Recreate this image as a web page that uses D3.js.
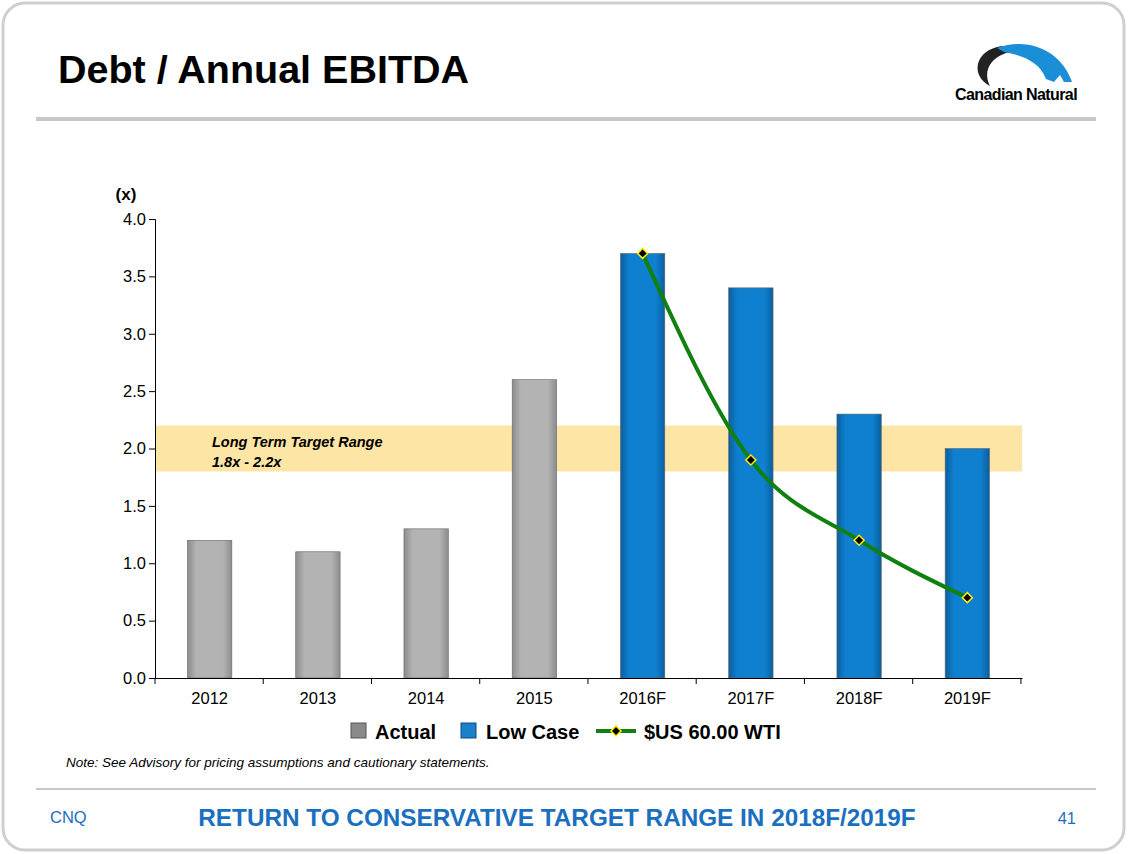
<!DOCTYPE html>
<html><head><meta charset="utf-8">
<script src="https://cdn.jsdelivr.net/npm/d3@7"></script>
<style>body{margin:0;background:#fff;font-family:"Liberation Sans",Arial,sans-serif}</style>
</head><body>
<svg id="c" width="1128" height="854"></svg>
<script>
const years = ["2012","2013","2014","2015","2016F","2017F","2018F","2019F"];
const actual = [1.2, 1.1, 1.3, 2.6, null, null, null, null];
const lowCase = [null, null, null, null, 3.7, 3.4, 2.3, 2.0];
const wti = [null, null, null, null, 3.7, 1.9, 1.2, 0.7];
const yTicks = [0, 0.5, 1, 1.5, 2, 2.5, 3, 3.5, 4];
const targetRange = [1.8, 2.2];

const svg = d3.select("#c");
const pLeft = 155, pRight = 1022, pTop = 219, pBottom = 678;

// slide frame
svg.append("rect").attr("x", 3).attr("y", 3).attr("width", 1121).attr("height", 847)
  .attr("rx", 22).attr("fill", "#fff").attr("stroke", "#cfcfcf").attr("stroke-width", 3);
svg.append("text").attr("x", 58).attr("y", 83).attr("font-size", 39.5).attr("font-weight", "bold")
  .text("Debt / Annual EBITDA");
svg.append("rect").attr("x", 36).attr("y", 117).attr("width", 1060).attr("height", 4).attr("fill", "#c8c8c8");

// logo
const logo = svg.append("g");
logo.append("path").attr("d", "M1002,46 C974,50 970,76 990,86 C982,70 992,56 1010,52 Z").attr("fill", "#222");
logo.append("path").attr("d", "M997,48 C1030,36 1062,52 1072,82 L1064,82 L1060,75 L1054,82 L1046,79 C1040,62 1022,55 1004,52 Z").attr("fill", "#1a8fd8");
logo.append("text").attr("x", 1016).attr("y", 100).attr("text-anchor", "middle").attr("font-size", 16)
  .attr("font-weight", "bold").attr("letter-spacing", -0.6).text("Canadian Natural");

const x = d3.scaleBand().domain(years).range([pLeft, pRight]).paddingInner(0.59).paddingOuter(0.3);
const y = d3.scaleLinear().domain([0, 4]).range([pBottom, pTop]);

// target band
svg.append("rect").attr("x", pLeft).attr("width", pRight - pLeft)
  .attr("y", y(targetRange[1])).attr("height", y(targetRange[0]) - y(targetRange[1]))
  .attr("fill", "#fde5a6");
svg.append("text").attr("x", 212).attr("y", 447).attr("font-size", 14.5).attr("font-weight", "bold")
  .attr("font-style", "italic").text("Long Term Target Range");
svg.append("text").attr("x", 212).attr("y", 467).attr("font-size", 14.5).attr("font-weight", "bold")
  .attr("font-style", "italic").text("1.8x - 2.2x");

const defs = svg.append("defs");
function grad(id, c0, c1) {
  const g = defs.append("linearGradient").attr("id", id);
  g.append("stop").attr("offset", "0").attr("stop-color", c1);
  g.append("stop").attr("offset", "0.2").attr("stop-color", c0);
  g.append("stop").attr("offset", "0.8").attr("stop-color", c0);
  g.append("stop").attr("offset", "1").attr("stop-color", c1);
}
grad("gGrey", "#b3b3b3", "#8c8c8c");
grad("gBlue", "#0f80d0", "#0a5f9e");

function bars(vals, fill) {
  svg.append("g").selectAll("rect").data(years.map((d, i) => [d, vals[i]]).filter(d => d[1] != null))
    .join("rect").attr("x", d => x(d[0])).attr("width", x.bandwidth())
    .attr("y", d => y(d[1])).attr("height", d => y(0) - y(d[1])).attr("fill", fill)
    .attr("stroke", "#666").attr("stroke-width", 0.6);
}
bars(actual, "url(#gGrey)");
bars(lowCase, "url(#gBlue)");

// axes
const ya = svg.append("g").attr("transform", `translate(${pLeft},0)`)
  .call(d3.axisLeft(y).tickValues(yTicks).tickFormat(d3.format(".1f")).tickSize(6));
const xa = svg.append("g").attr("transform", `translate(0,${pBottom})`)
  .call(d3.axisBottom(x).tickSize(0).tickPadding(14));
[ya, xa].forEach(a => { a.selectAll("text").attr("font-size", 16.5).attr("fill", "#000").attr("font-family", "Liberation Sans, Arial"); a.selectAll("path,line").attr("stroke", "#000"); });
svg.append("g").attr("transform", `translate(0,${pBottom})`).selectAll("line")
  .data(d3.range(years.length + 1)).join("line")
  .attr("x1", i => pLeft + i * x.step()).attr("x2", i => pLeft + i * x.step()).attr("y2", 6).attr("stroke", "#000");
svg.append("text").attr("x", 126).attr("y", 200).attr("text-anchor", "middle").attr("font-size", 17)
  .attr("font-weight", "bold").text("(x)");

// WTI line
const pts = years.map((d, i) => [d, wti[i]]).filter(d => d[1] != null);
const cx = d => x(d[0]) + x.bandwidth() / 2;
svg.append("path").datum(pts).attr("fill", "none").attr("stroke", "#108010").attr("stroke-width", 4)
  .attr("d", d3.line().x(cx).y(d => y(d[1])).curve(d3.curveMonotoneX));
const diamond = d3.symbol(d3.symbolSquare, 50);
svg.append("g").selectAll("path").data(pts).join("path")
  .attr("transform", d => `translate(${cx(d)},${y(d[1])}) rotate(45)`)
  .attr("d", diamond).attr("fill", "#000").attr("stroke", "#ffee00").attr("stroke-width", 1.5);

// legend
const lg = svg.append("g").attr("font-size", 20).attr("font-weight", "bold");
lg.append("rect").attr("x", 351).attr("y", 723).attr("width", 15).attr("height", 15).attr("fill", "#8a8a8a").attr("stroke", "#555");
lg.append("text").attr("x", 375).attr("y", 739).text("Actual");
lg.append("rect").attr("x", 461).attr("y", 723).attr("width", 15).attr("height", 15).attr("fill", "#1a80cc").attr("stroke", "#0a4f8a");
lg.append("text").attr("x", 486).attr("y", 739).text("Low Case");
lg.append("line").attr("x1", 596).attr("x2", 636).attr("y1", 731).attr("y2", 731).attr("stroke", "#108010").attr("stroke-width", 4);
lg.append("path").attr("transform", "translate(616,731) rotate(45)").attr("d", diamond)
  .attr("fill", "#000").attr("stroke", "#ffee00").attr("stroke-width", 1.5);
lg.append("text").attr("x", 644).attr("y", 739).text("$US 60.00 WTI");

svg.append("text").attr("x", 66).attr("y", 767).attr("font-size", 13.5).attr("font-style", "italic")
  .text("Note:  See Advisory for pricing assumptions and cautionary statements.");

// footer
svg.append("rect").attr("x", 36).attr("y", 788).attr("width", 1060).attr("height", 2).attr("fill", "#c8c8c8");
svg.append("text").attr("x", 50).attr("y", 823).attr("font-size", 16.5).attr("fill", "#1a6fc0").text("CNQ");
svg.append("text").attr("x", 557).attr("y", 826).attr("text-anchor", "middle").attr("font-size", 24.3)
  .attr("font-weight", "bold").attr("fill", "#1a6fc0").text("RETURN TO CONSERVATIVE TARGET RANGE IN 2018F/2019F");
svg.append("text").attr("x", 1076).attr("y", 824).attr("text-anchor", "end").attr("font-size", 16.5).attr("fill", "#1a6fc0").text("41");
</script>
</body></html>
